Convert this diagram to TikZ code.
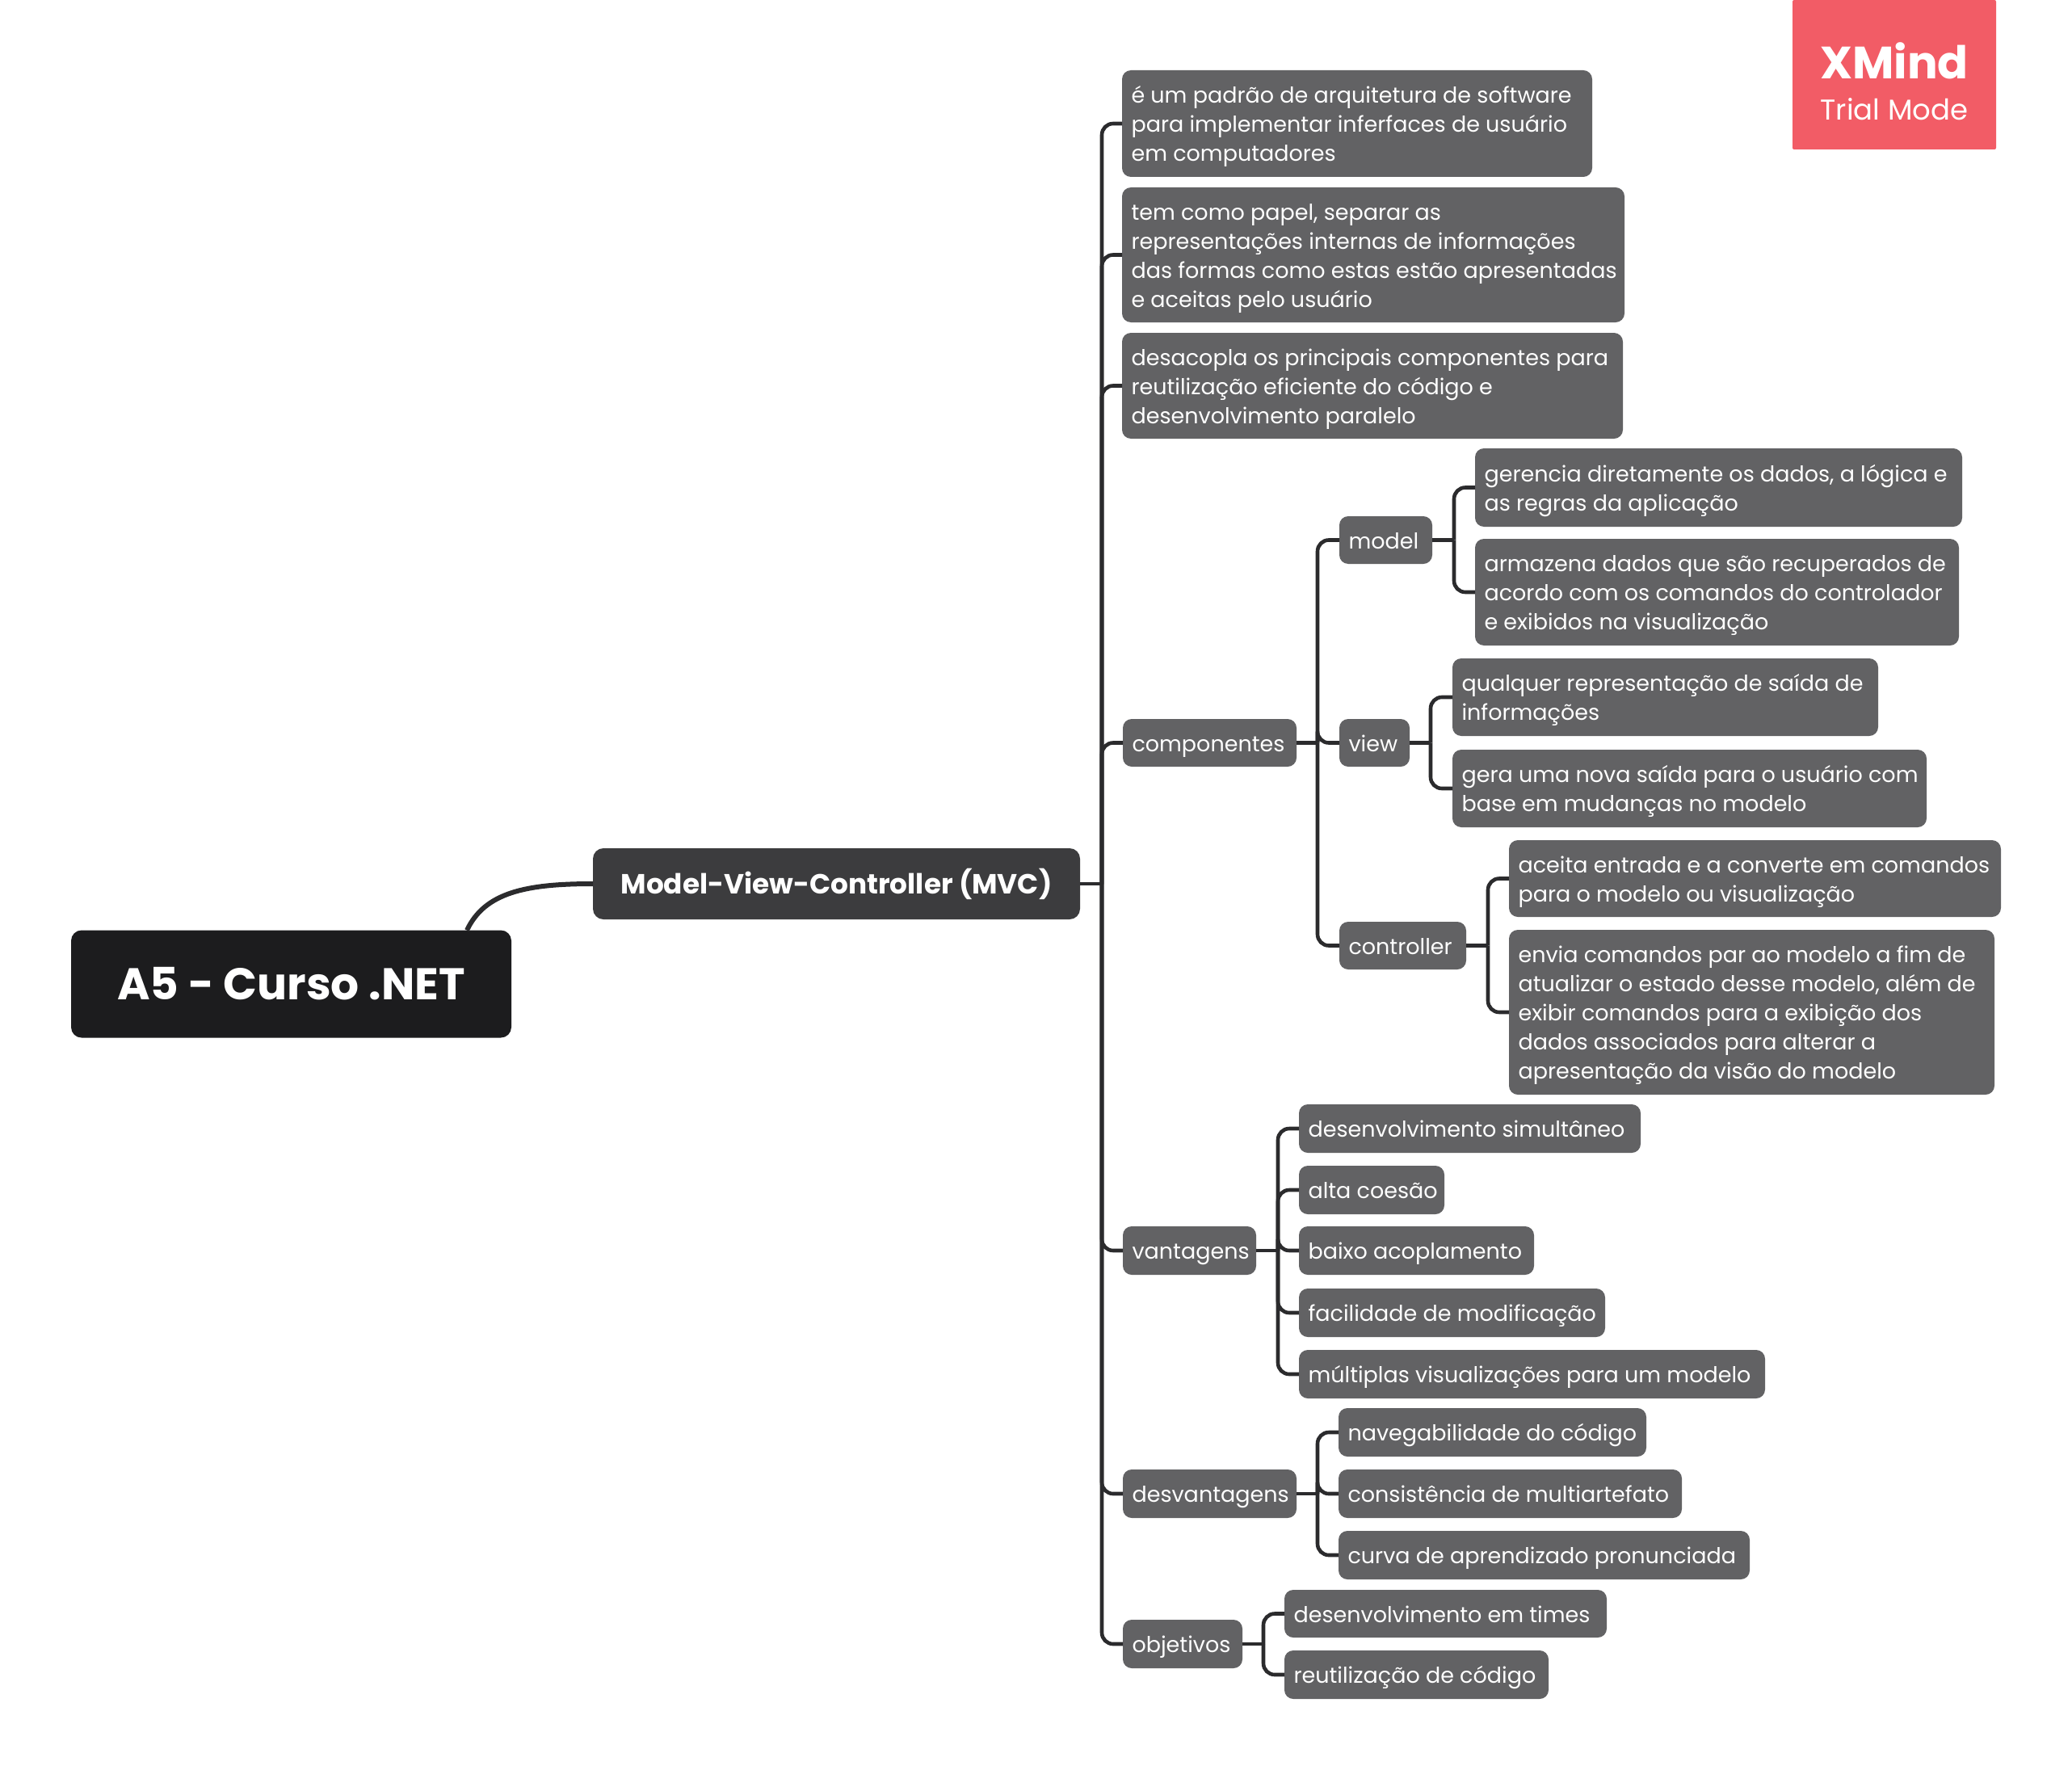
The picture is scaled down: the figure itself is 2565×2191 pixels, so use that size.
\documentclass[tikz,border=0pt]{standalone}
\usepackage{fontspec}
\setmainfont{Poppins}
\definecolor{rootc}{HTML}{1C1C1E}
\definecolor{mvcc}{HTML}{3C3C3E}
\definecolor{leafc}{HTML}{626264}
\definecolor{linec}{HTML}{2B2B2D}
\definecolor{trialc}{HTML}{F25C66}
\tikzset{
  box/.style={fill=leafc,text=white,rounded corners=11pt,inner xsep=11.5pt,inner ysep=0pt,outer sep=0pt,font=\fontsize{27}{36}\selectfont},
  rootbox/.style={box,fill=rootc,rounded corners=13pt,font=\bfseries\fontsize{55}{60}\selectfont,align=center},
  mvcbox/.style={box,fill=mvcc,rounded corners=13pt,font=\bfseries\fontsize{34.3}{42}\selectfont,align=center},
  trialbox/.style={fill=trialc,text=white,inner sep=0pt,outer sep=0pt,align=center},
  conn/.style={draw=linec,line width=4.6pt,rounded corners=14pt},
  thick conn/.style={draw=linec,line width=6pt},
}
% name, x1,y1,x2,y2, text
\newcommand\bx[7][box]{%
  \pgfmathsetlengthmacro\bw{(#5-#3)*1pt}%
  \pgfmathsetlengthmacro\bh{(#6-#4)*1pt}%
  \pgfmathsetlengthmacro\tw{(#5-#3-23)*1pt}%
  \node[#1,minimum width=\bw,minimum height=\bh] (#2) at ({(#3+#5)/2},{(#4+#6)/2})
    {\makebox[\tw][l]{\raisebox{-3.5pt}[\height][\depth]{\begin{tabular}{@{}l@{}}#7\end{tabular}}}};}
\newcommand\bracket[3]{%
  \draw[conn,rounded corners=0pt] (#1.east) -- (#1.east -| #2);
  \foreach \c in {#3} {\draw[conn] (#1.east -| #2) |- (\c.west);}}
\begin{document}
\begin{tikzpicture}[x=1pt,y=-1pt]
\useasboundingbox (0,0) rectangle (2565,2191);
\fill[white] (0,0) rectangle (2565,2191);
\coordinate (trunk) at (1364,0);
\coordinate (bcomp) at (1631,0);
\coordinate (bmodel) at (1800,0);
\coordinate (bview) at (1771,0);
\coordinate (bctrl) at (1842,0);
\coordinate (bvant) at (1582,0);
\coordinate (bdesv) at (1631,0);
\coordinate (bobj) at (1564,0);

\node[rootbox,minimum width=545pt,minimum height=133pt] (root) at (360.5,1218) {A5 - Curso .NET};
\node[mvcbox,minimum width=603pt,minimum height=88pt] (mvc) at (1035.5,1094) {Model-View-Controller (MVC)};
\node[trialbox,minimum width=252pt,minimum height=185pt,rounded corners=2pt] (trial) at (2345,92.5) {};
\node[text=white,inner sep=0pt,font=\bfseries\fontsize{56}{60}\selectfont] (xmind) at (2345,75) {XMind};
\node[text=white,inner sep=0pt,font=\fontsize{35.5}{40}\selectfont] (trialmode) at (2345,135) {Trial Mode};

\bx{n1}{1389}{87}{1971}{219}{é um padrão de arquitetura de software\\para implementar inferfaces de usuário\\em computadores}
\bx{n2}{1389}{232}{2011}{399}{tem como papel, separar as\\representações internas de informações\\das formas como estas estão apresentadas\\e aceitas pelo usuário}
\bx{n3}{1389}{412}{2009}{543}{desacopla os principais componentes para\\reutilização eficiente do código e\\desenvolvimento paralelo}
\bx{comp}{1390}{890}{1605}{949}{componentes}
\bx{model}{1658}{639}{1773}{698}{model}
\bx{view}{1658}{890}{1745}{949}{view}
\bx{ctrl}{1658}{1141}{1815}{1200}{controller}
\bx{m1}{1826}{555}{2429}{652}{gerencia diretamente os dados, a lógica e\\as regras da aplicação}
\bx{m2}{1826}{667}{2425}{799}{armazena dados que são recuperados de\\acordo com os comandos do controlador\\e exibidos na visualização}
\bx{v1}{1798}{815}{2325}{911}{qualquer representação de saída de\\informações}
\bx{v2}{1798}{928}{2385}{1024}{gera uma nova saída para o usuário com\\base em mudanças no modelo}
\bx{c1}{1868}{1040}{2477}{1135}{aceita entrada e a converte em comandos\\para o modelo ou visualização}
\bx{c2}{1868}{1151}{2469}{1355}{envia comandos par ao modelo a fim de\\atualizar o estado desse modelo, além de\\exibir comandos para a exibição dos\\dados associados para alterar a\\apresentação da visão do modelo}
\bx{vant}{1390}{1518}{1555}{1578}{vantagens}
\bx{va}{1608}{1367}{2031}{1427}{desenvolvimento simultâneo}
\bx{vb}{1608}{1443}{1788}{1503}{alta coesão}
\bx{vc}{1608}{1518}{1899}{1578}{baixo acoplamento}
\bx{vd}{1608}{1595}{1987}{1655}{facilidade de modificação}
\bx{ve}{1608}{1671}{2185}{1731}{múltiplas visualizações para um modelo}
\bx{desv}{1390}{1819}{1605}{1879}{desvantagens}
\bx{da}{1657}{1743}{2038}{1803}{navegabilidade do código}
\bx{db}{1657}{1819}{2082}{1879}{consistência de multiartefato}
\bx{dc}{1657}{1895}{2166}{1955}{curva de aprendizado pronunciada}
\bx{obj}{1390}{2005}{1538}{2065}{objetivos}
\bx{oa}{1590}{1968}{1989}{2027}{desenvolvimento em times}
\bx{ob}{1590}{2043}{1917}{2103}{reutilização de código}

\draw[thick conn] (root.north west) ++(490,0) coordinate (rootout) .. controls (600,1105) and (650,1094) .. (mvc.west);
\bracket{mvc}{trunk}{n1,n2,n3,comp,vant,desv,obj}
\bracket{comp}{bcomp}{model,view,ctrl}
\bracket{model}{bmodel}{m1,m2}
\bracket{view}{bview}{v1,v2}
\bracket{ctrl}{bctrl}{c1,c2}
\bracket{vant}{bvant}{va,vb,vc,vd,ve}
\bracket{desv}{bdesv}{da,db,dc}
\bracket{obj}{bobj}{oa,ob}
\end{tikzpicture}
\end{document}
